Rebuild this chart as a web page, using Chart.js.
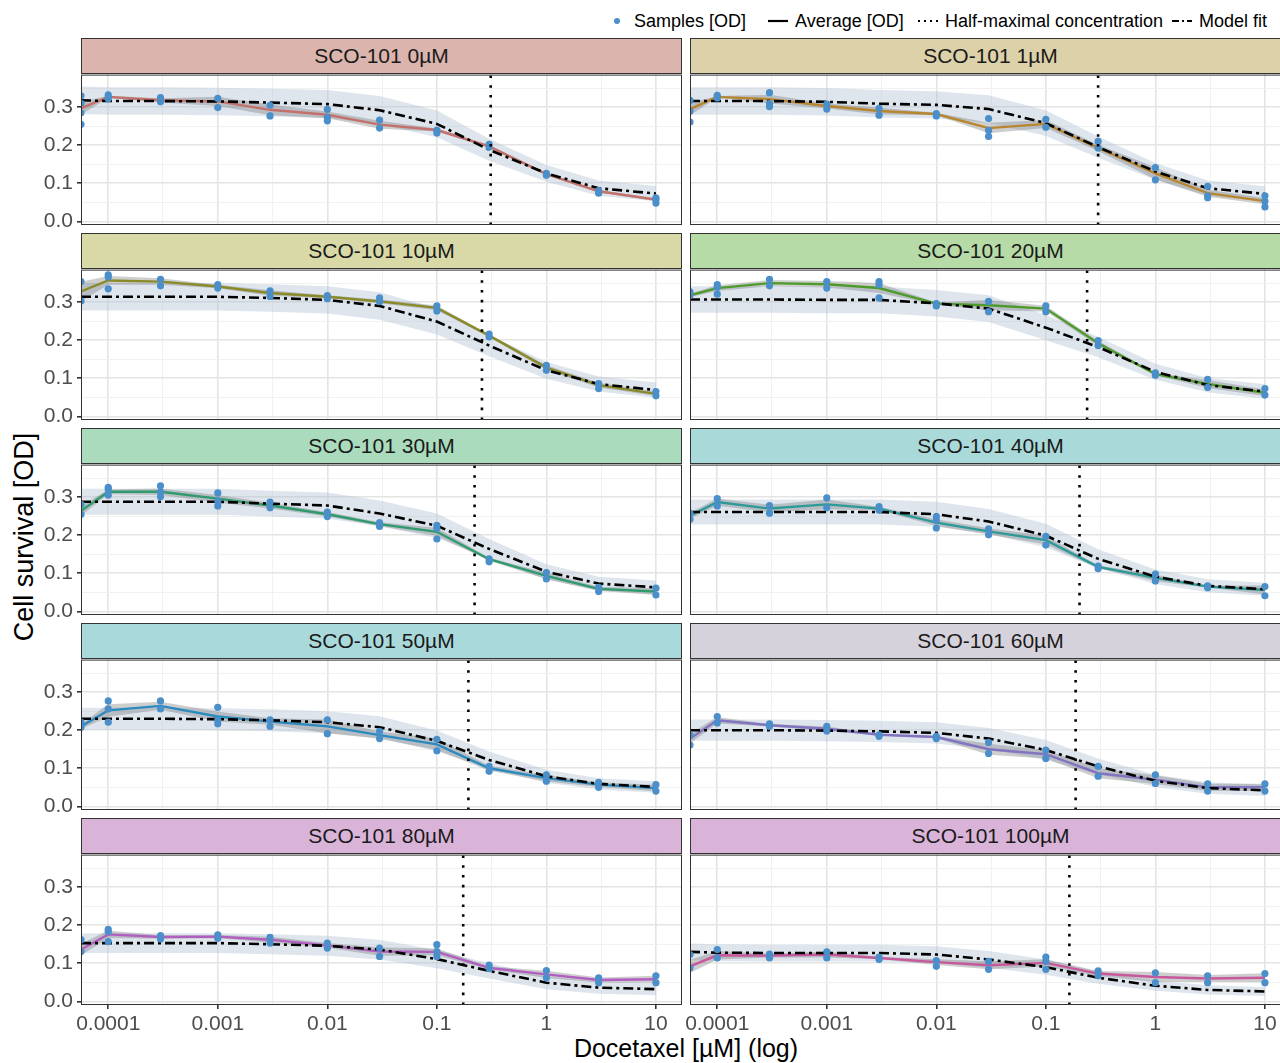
<!DOCTYPE html>
<html>
<head>
<meta charset="utf-8">
<script src="https://cdn.jsdelivr.net/npm/chart.js@4.4.1/dist/chart.umd.min.js"></script>
<style>
  body { margin: 0; background: #fff; font-family: "Liberation Sans", Arial, sans-serif; }
  #fig { position: relative; width: 1280px; height: 1063px; overflow: hidden; background: #fff; }
  .panel { position: absolute; z-index: 1; }
  .strip { position: absolute; box-sizing: border-box; border: 1px solid #333; width: 601px; height: 36px;
           text-align: center; font-size: 21px; line-height: 34px; color: #1a1a1a; z-index: 2; }
  .lg { position: absolute; top: 10px; font-size: 18px; line-height: 22px; color: #000; white-space: nowrap; }
  .lgsvg { position: absolute; top: 11px; }
  #ytitle { position: absolute; left: 24px; top: 537px; transform: translate(-50%, -50%) rotate(-90deg);
            font-size: 27px; white-space: nowrap; color: #000; }
  #xtitle { position: absolute; left: 686px; top: 1048px; transform: translate(-50%, -50%);
            font-size: 25px; white-space: nowrap; color: #000; }
</style>
</head>
<body>
<div id="fig">
  <svg class="lgsvg" style="left:610px" width="14" height="20"><circle cx="7" cy="10" r="3" fill="#4b8fca"/></svg>
  <span class="lg" style="left:634px">Samples [OD]</span>
  <svg class="lgsvg" style="left:767px" width="22" height="20"><line x1="1" y1="10" x2="21" y2="10" stroke="#000" stroke-width="2.2"/></svg>
  <span class="lg" style="left:795px">Average [OD]</span>
  <svg class="lgsvg" style="left:917px" width="22" height="20"><line x1="1" y1="10" x2="21" y2="10" stroke="#000" stroke-width="2.2" stroke-dasharray="2 4"/></svg>
  <span class="lg" style="left:945px">Half-maximal concentration</span>
  <svg class="lgsvg" style="left:1171px" width="22" height="20"><line x1="1" y1="10" x2="21" y2="10" stroke="#000" stroke-width="2.2" stroke-dasharray="7 3 2 3"/></svg>
  <span class="lg" style="left:1199px">Model fit</span>
  <div id="ytitle">Cell survival [OD]</div>
  <div id="xtitle">Docetaxel [µM] (log)</div>
</div>
<script>
// Docetaxel concentrations (µM); the first entry is the untreated control, drawn at the left edge
const conc = [5.64e-5, 0.0001, 0.0003, 0.001, 0.003, 0.01, 0.03, 0.1, 0.3, 1, 3, 10];

const panelLabels = ['SCO-101 0µM', 'SCO-101 1µM', 'SCO-101 10µM', 'SCO-101 20µM', 'SCO-101 30µM',
                     'SCO-101 40µM', 'SCO-101 50µM', 'SCO-101 60µM', 'SCO-101 80µM', 'SCO-101 100µM'];

// half-maximal concentration per panel
const ec50 = [0.31, 0.30, 0.258, 0.238, 0.221, 0.203, 0.194, 0.187, 0.174, 0.164];

// average OD per panel
const avgOD = [
  [0.297, 0.327, 0.318, 0.315, 0.293, 0.280, 0.254, 0.240, 0.197, 0.124, 0.079, 0.057],
  [0.295, 0.327, 0.321, 0.303, 0.290, 0.282, 0.245, 0.256, 0.193, 0.126, 0.074, 0.053],
  [0.328, 0.357, 0.354, 0.341, 0.324, 0.314, 0.302, 0.285, 0.212, 0.128, 0.082, 0.059],
  [0.318, 0.337, 0.350, 0.347, 0.337, 0.296, 0.292, 0.283, 0.192, 0.111, 0.085, 0.062],
  [0.264, 0.314, 0.314, 0.296, 0.278, 0.255, 0.229, 0.209, 0.137, 0.093, 0.059, 0.052],
  [0.251, 0.287, 0.270, 0.281, 0.270, 0.233, 0.210, 0.187, 0.117, 0.088, 0.065, 0.056],
  [0.210, 0.252, 0.264, 0.236, 0.223, 0.210, 0.187, 0.163, 0.100, 0.074, 0.057, 0.048],
  [0.178, 0.226, 0.213, 0.204, 0.188, 0.182, 0.150, 0.137, 0.087, 0.070, 0.050, 0.050],
  [0.136, 0.176, 0.169, 0.170, 0.162, 0.147, 0.131, 0.130, 0.088, 0.071, 0.056, 0.058],
  [0.092, 0.121, 0.120, 0.123, 0.114, 0.103, 0.095, 0.101, 0.073, 0.064, 0.060, 0.062]
];

// model fit per panel
const fitOD = [
  [0.318, 0.316, 0.316, 0.315, 0.312, 0.308, 0.292, 0.256, 0.188, 0.126, 0.087, 0.073],
  [0.316, 0.316, 0.316, 0.314, 0.309, 0.306, 0.295, 0.258, 0.195, 0.131, 0.087, 0.072],
  [0.314, 0.314, 0.314, 0.314, 0.311, 0.306, 0.290, 0.249, 0.186, 0.121, 0.085, 0.069],
  [0.307, 0.307, 0.307, 0.306, 0.306, 0.297, 0.283, 0.233, 0.182, 0.117, 0.082, 0.065],
  [0.288, 0.288, 0.288, 0.288, 0.283, 0.278, 0.257, 0.225, 0.164, 0.104, 0.073, 0.063],
  [0.261, 0.261, 0.261, 0.261, 0.261, 0.255, 0.236, 0.199, 0.138, 0.091, 0.067, 0.058],
  [0.230, 0.230, 0.230, 0.229, 0.226, 0.221, 0.208, 0.172, 0.122, 0.079, 0.059, 0.051],
  [0.200, 0.200, 0.200, 0.199, 0.197, 0.193, 0.178, 0.148, 0.105, 0.067, 0.048, 0.042],
  [0.153, 0.153, 0.153, 0.153, 0.150, 0.146, 0.136, 0.111, 0.080, 0.049, 0.036, 0.032],
  [0.130, 0.128, 0.127, 0.127, 0.127, 0.123, 0.110, 0.090, 0.062, 0.041, 0.030, 0.026]
];

// half-width of the model fit band per panel
const fitBand = [
  [0.036, 0.036, 0.036, 0.036, 0.036, 0.037, 0.037, 0.035, 0.029, 0.022, 0.020, 0.020],
  [0.036, 0.036, 0.036, 0.036, 0.036, 0.036, 0.036, 0.034, 0.028, 0.022, 0.020, 0.020],
  [0.036, 0.036, 0.036, 0.036, 0.036, 0.036, 0.036, 0.034, 0.028, 0.022, 0.020, 0.020],
  [0.035, 0.035, 0.035, 0.035, 0.035, 0.035, 0.035, 0.033, 0.027, 0.021, 0.019, 0.019],
  [0.034, 0.034, 0.034, 0.034, 0.034, 0.034, 0.034, 0.032, 0.026, 0.020, 0.018, 0.018],
  [0.033, 0.033, 0.033, 0.033, 0.033, 0.033, 0.033, 0.031, 0.025, 0.019, 0.017, 0.017],
  [0.029, 0.029, 0.029, 0.029, 0.029, 0.029, 0.029, 0.027, 0.022, 0.017, 0.015, 0.015],
  [0.028, 0.028, 0.028, 0.028, 0.028, 0.028, 0.028, 0.026, 0.021, 0.016, 0.015, 0.015],
  [0.026, 0.026, 0.026, 0.026, 0.026, 0.026, 0.026, 0.024, 0.020, 0.017, 0.016, 0.016],
  [0.022, 0.022, 0.022, 0.022, 0.022, 0.022, 0.022, 0.020, 0.016, 0.013, 0.012, 0.012]
];

// replicate samples per panel and concentration
const samplesOD = [
  [[0.33, 0.31, 0.285, 0.255], [0.332, 0.326, 0.322], [0.325, 0.314], [0.323, 0.299], [0.305, 0.277], [0.294, 0.273, 0.264], [0.266, 0.245], [0.240, 0.232], [0.202, 0.195], [0.126, 0.121], [0.081, 0.074], [0.062, 0.057, 0.048]],
  [[0.318, 0.289, 0.261], [0.331, 0.327, 0.324], [0.338, 0.309, 0.301], [0.308, 0.295], [0.297, 0.279], [0.283, 0.277], [0.270, 0.239, 0.223], [0.268, 0.247], [0.210, 0.193], [0.141, 0.109], [0.092, 0.067, 0.062], [0.067, 0.053, 0.038]],
  [[0.354, 0.303], [0.372, 0.366, 0.335], [0.360, 0.343], [0.346, 0.337], [0.330, 0.315], [0.317, 0.309], [0.311, 0.301], [0.290, 0.277], [0.216, 0.209], [0.134, 0.121], [0.086, 0.073], [0.065, 0.054]],
  [[0.327, 0.318], [0.346, 0.339, 0.321], [0.360, 0.343], [0.354, 0.337], [0.354, 0.346, 0.311], [0.296, 0.290], [0.302, 0.275], [0.290, 0.275], [0.199, 0.186], [0.114, 0.108], [0.097, 0.076], [0.073, 0.056]],
  [[0.281, 0.255], [0.326, 0.320, 0.305], [0.330, 0.313, 0.301], [0.311, 0.290, 0.277], [0.287, 0.272], [0.261, 0.249], [0.233, 0.223], [0.226, 0.218, 0.190], [0.138, 0.130], [0.102, 0.085], [0.063, 0.052], [0.061, 0.043]],
  [[0.258, 0.242], [0.296, 0.277], [0.278, 0.258], [0.298, 0.272], [0.275, 0.266], [0.249, 0.239, 0.219], [0.217, 0.201], [0.197, 0.174], [0.119, 0.112], [0.098, 0.080], [0.067, 0.062], [0.065, 0.041]],
  [[0.221, 0.208], [0.277, 0.256, 0.221], [0.277, 0.256], [0.260, 0.226, 0.217], [0.227, 0.210], [0.227, 0.191], [0.197, 0.178], [0.176, 0.146], [0.105, 0.092], [0.083, 0.066], [0.063, 0.050], [0.057, 0.040]],
  [[0.187, 0.161], [0.236, 0.219], [0.217, 0.210], [0.210, 0.198], [0.188, 0.184], [0.184, 0.178], [0.168, 0.139], [0.148, 0.126], [0.105, 0.079], [0.083, 0.060], [0.059, 0.040], [0.059, 0.040]],
  [[0.162, 0.131], [0.189, 0.183, 0.157], [0.173, 0.164], [0.175, 0.166], [0.168, 0.153], [0.153, 0.140], [0.140, 0.118], [0.149, 0.131, 0.118], [0.095, 0.086], [0.081, 0.062], [0.062, 0.049], [0.067, 0.049]],
  [[0.123, 0.088], [0.136, 0.114], [0.124, 0.114], [0.130, 0.114], [0.116, 0.110], [0.107, 0.092], [0.105, 0.084], [0.116, 0.105, 0.084], [0.080, 0.067], [0.075, 0.049], [0.067, 0.049], [0.073, 0.049]]
];

// axis ticks
const xTickValues = [0.0001, 0.001, 0.01, 0.1, 1, 10];
const xTickLabels = ['0.0001', '0.001', '0.01', '0.1', '1', '10'];
const xMinorValues = [0.000316, 0.00316, 0.0316, 0.316, 3.16];
const yTickValues = [0, 0.1, 0.2, 0.3];
const yTickLabels = ['0.0', '0.1', '0.2', '0.3'];
const yMinorValues = [0.05, 0.15, 0.25, 0.35];

// colours
const lineColors = ['#c4716b', '#b8862e', '#8a8a28', '#4e9b2b', '#2f9a6e', '#2d9a98', '#2b8bbf', '#8274c0', '#b15ec0', '#c8589c'];
const stripColors = ['#dbb4ad', '#dcd1a8', '#d8d9a7', '#b6dba7', '#a9dbbc', '#a9d9d9', '#a9d9da', '#d6d2dc', '#d9b4d8', '#d9b4d8'];

// layout
const X_MIN = 5.64e-5, X_MAX = 17.3;
const Y_MIN = -0.0096, Y_MAX = 0.3855;
const PLOT_TOP0 = 73, ROW_PITCH = 195, PLOT_H = 152, PLOT_W = 601;
const COL_LEFT = [81, 690];

Chart.defaults.font.family = '"Liberation Sans", Arial, sans-serif';

const panelBorder = {
  id: 'panelBorder',
  afterDraw(chart) {
    const a = chart.chartArea, c = chart.ctx;
    c.save();
    c.strokeStyle = '#333';
    c.lineWidth = 1;
    c.strokeRect(a.left + 0.5, a.top + 0.5, a.right - a.left - 1, a.bottom - a.top - 1);
    c.restore();
  }
};

function stdErr(vals) {
  const n = vals.length;
  const m = vals.reduce((s, v) => s + v, 0) / n;
  const sd = Math.sqrt(vals.reduce((s, v) => s + (v - m) * (v - m), 0) / (n - 1));
  return sd / Math.sqrt(n);
}

function pts(ys) {
  return ys.map((y, i) => ({ x: conc[i], y: y }));
}

function renderPanel(p) {
  const fig = document.getElementById('fig');
  const col = p % 2, row = Math.floor(p / 2);
  const last = row === 4;
  const plotTop = PLOT_TOP0 + row * ROW_PITCH;
  const plotLeft = COL_LEFT[col];

  // strip header
  const strip = document.createElement('div');
  strip.className = 'strip';
  strip.style.left = plotLeft + 'px';
  strip.style.top = (plotTop - 35) + 'px';
  strip.style.background = stripColors[p];
  strip.textContent = panelLabels[p];
  fig.appendChild(strip);

  // canvas geometry
  const axisW = col === 0 ? plotLeft : 0;
  const padLeft = col === 0 ? 0 : 6;
  const canvasLeft = plotLeft - axisW - padLeft;
  const padRight = 4, padTop = 2;
  const xAxisH = last ? 36 : 0;
  const padBottom = last ? 0 : 12;
  const w = plotLeft + PLOT_W + padRight - canvasLeft;
  const h = padTop + PLOT_H + xAxisH + padBottom;

  const wrap = document.createElement('div');
  wrap.className = 'panel';
  wrap.style.left = canvasLeft + 'px';
  wrap.style.top = (plotTop - padTop) + 'px';
  const canvas = document.createElement('canvas');
  canvas.width = w;
  canvas.height = h;
  wrap.appendChild(canvas);
  fig.appendChild(wrap);

  const se = samplesOD[p].map(stdErr);
  const avg = avgOD[p], fit = fitOD[p], band = fitBand[p];
  const samplePts = [];
  samplesOD[p].forEach((vals, i) => vals.forEach(v => samplePts.push({ x: conc[i], y: v })));

  const datasets = [
    { // half-maximal concentration
      data: [{ x: ec50[p], y: Y_MIN }, { x: ec50[p], y: Y_MAX }],
      borderColor: '#000', borderWidth: 2.6, borderDash: [2.6, 7.2], pointRadius: 0, order: 0
    },
    { // samples
      data: samplePts, showLine: false, pointRadius: 3.6, pointHoverRadius: 3.6,
      pointBackgroundColor: '#4b8fca', pointBorderWidth: 0, order: 1
    },
    { // model fit
      data: pts(fit), borderColor: '#000', borderWidth: 2.6, borderDash: [10, 4, 3, 4],
      pointRadius: 0, tension: 0, order: 2
    },
    { // average
      data: pts(avg), borderColor: lineColors[p], borderWidth: 2.4, pointRadius: 0, tension: 0, order: 3
    },
    { // average band low
      data: pts(avg.map((v, i) => v - se[i])), borderWidth: 0, pointRadius: 0, fill: false, order: 4
    },
    { // average band high
      data: pts(avg.map((v, i) => v + se[i])), borderWidth: 0, pointRadius: 0,
      fill: 4, backgroundColor: 'rgba(105,105,110,0.33)', order: 5
    },
    { // fit band low
      data: pts(fit.map((v, i) => v - band[i])), borderWidth: 0, pointRadius: 0, fill: false, order: 6
    },
    { // fit band high
      data: pts(fit.map((v, i) => v + band[i])), borderWidth: 0, pointRadius: 0,
      fill: 6, backgroundColor: 'rgba(176,192,210,0.42)', order: 7
    }
  ];

  new Chart(canvas, {
    type: 'line',
    data: { datasets: datasets },
    plugins: [panelBorder],
    options: {
      responsive: false,
      animation: false,
      events: [],
      layout: { padding: { left: padLeft, right: padRight, top: padTop, bottom: padBottom } },
      plugins: { legend: { display: false }, tooltip: { enabled: false } },
      scales: {
        x: {
          type: 'logarithmic',
          min: X_MIN,
          max: X_MAX,
          border: { display: false },
          afterBuildTicks: s => {
            s.ticks = xTickValues.concat(xMinorValues).sort((a, b) => a - b).map(v => ({ value: v }));
          },
          afterFit: s => {
            s.height = xAxisH;
            s.paddingLeft = 0; s.paddingRight = 0;
          },
          grid: {
            color: c => (c.tick && xTickValues.includes(c.tick.value)) ? '#e4e4e4' : '#efefef',
            lineWidth: c => (c.tick && xTickValues.includes(c.tick.value)) ? 1.6 : 0.9,
            tickColor: c => (c.tick && xTickValues.includes(c.tick.value)) ? '#333' : 'rgba(0,0,0,0)',
            tickLength: 4,
            drawTicks: last
          },
          ticks: {
            display: last,
            autoSkip: false,
            maxRotation: 0,
            padding: 3,
            color: '#4d4d4d',
            font: { size: 21 },
            callback: v => {
              const i = xTickValues.indexOf(v);
              return i >= 0 ? xTickLabels[i] : '';
            }
          }
        },
        y: {
          type: 'linear',
          min: Y_MIN,
          max: Y_MAX,
          border: { display: false },
          afterBuildTicks: s => {
            s.ticks = yTickValues.concat(yMinorValues).sort((a, b) => a - b).map(v => ({ value: v }));
          },
          afterFit: s => {
            s.width = axisW;
            s.paddingTop = 0; s.paddingBottom = 0;
          },
          grid: {
            color: c => (c.tick && yTickValues.includes(c.tick.value)) ? '#e4e4e4' : '#efefef',
            lineWidth: c => (c.tick && yTickValues.includes(c.tick.value)) ? 1.6 : 0.9,
            tickColor: c => (c.tick && yTickValues.includes(c.tick.value)) ? '#333' : 'rgba(0,0,0,0)',
            tickLength: 4,
            drawTicks: col === 0
          },
          ticks: {
            display: col === 0,
            autoSkip: false,
            padding: 4,
            color: '#4d4d4d',
            font: { size: 21 },
            callback: v => {
              const i = yTickValues.indexOf(v);
              return i >= 0 ? yTickLabels[i] : '';
            }
          }
        }
      }
    }
  });
}

panelLabels.forEach((_, p) => renderPanel(p));
</script>
</body>
</html>
